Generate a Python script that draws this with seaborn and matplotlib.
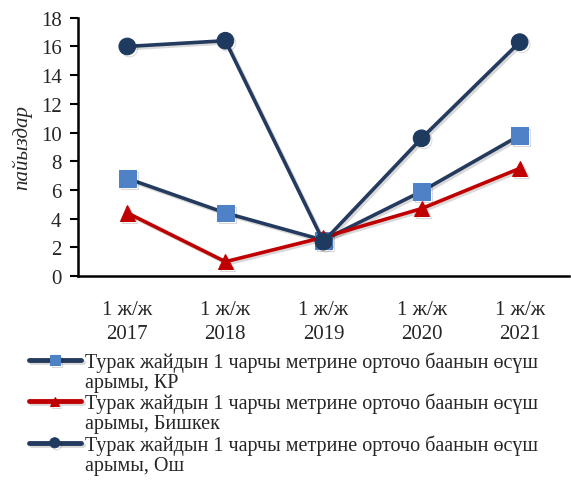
import pandas as pd
import numpy as np
import matplotlib
matplotlib.use("Agg")
import matplotlib.pyplot as plt
import matplotlib.patheffects as pe
from matplotlib.lines import Line2D
import seaborn as sns

# Данные графика
periods = ["1 ж/ж\n2017", "1 ж/ж\n2018", "1 ж/ж\n2019", "1 ж/ж\n2020", "1 ж/ж\n2021"]
kr = [6.8, 4.4, 2.5, 5.9, 9.8]
bishkek = [4.4, 1.0, 2.7, 4.7, 7.5]
osh = [16.0, 16.4, 2.4, 9.6, 16.3]

base_line1 = "Турак жайдын 1 чарчы метрине орточо баанын өсүш"
regions = ["КР", "Бишкек", "Ош"]
series_names = [base_line1 + "\nарымы, " + r for r in regions]

df = pd.DataFrame({
    "period": periods * 3,
    "value": kr + bishkek + osh,
    "series": [series_names[0]] * 5 + [series_names[1]] * 5 + [series_names[2]] * 5,
})

sns.set_style("white")
plt.rcParams["font.family"] = ["Liberation Serif", "DejaVu Serif"]

fig = plt.figure(figsize=(5.71, 4.81), dpi=100)
ax = fig.add_axes([0.137, 0.424, 0.859, 0.537])

styles = [
    dict(marker="s", ms=12, mfc="#4F81C7", mec="#4F81C7", lw=2.6),
    dict(marker="^", ms=11, mfc="#C00000", mec="#C00000", lw=2.6),
    dict(marker="o", ms=12, mfc="#1F3A5F", mec="#1F3A5F", lw=2.6),
]
shadow = [pe.SimpleLineShadow(offset=(1.5, -1.5), alpha=0.15), pe.Normal()]

for name, col, st in zip(series_names, ["#243A5E", "#C00000", "#243A5E"], styles):
    sub = df[df["series"] == name]
    sns.lineplot(data=sub, x="period", y="value", ax=ax, color=col,
                 label=name, sort=False, path_effects=shadow, **st)

ax.set_xlim(-0.5, 4.5)
ax.set_ylim(0, 18)
ax.set_yticks(np.arange(0, 19, 2))
ax.set_xticks(np.arange(-0.5, 4.6, 1), minor=False)
ax.set_xticklabels([])
ax.set_xticks(range(5), minor=True)
ax.set_xticklabels(periods, minor=True, fontsize=15, linespacing=1.35)
ax.tick_params(axis="x", which="major", direction="in", length=5, width=1.5, color="black")
ax.tick_params(axis="x", which="minor", length=0, pad=17)
ax.tick_params(axis="y", direction="out", length=6, width=1.5, color="black",
               labelsize=15, left=True, pad=6)
for s in ["top", "right"]:
    ax.spines[s].set_visible(False)
for s in ["left", "bottom"]:
    ax.spines[s].set_color("black")
    ax.spines[s].set_linewidth(1.8)

ax.set_xlabel("")
ax.set_ylabel("пайыздар", fontsize=15, style="italic", labelpad=6)

# легенда: маркер на уровне первой строки подписи, вторая строка отдельной записью
handles, labels = ax.get_legend_handles_labels()
ax.get_legend().remove()
leg_handles, leg_labels = [], []
for h, r in zip(handles, regions):
    leg_handles += [h, Line2D([], [], color="none")]
    leg_labels += [base_line1, "арымы, " + r]

leg = fig.legend(leg_handles, leg_labels, loc="upper left", bbox_to_anchor=(0.05, 0.268),
                 frameon=False, fontsize=14.5, handlelength=2.6, handletextpad=0.2,
                 labelspacing=0.05, borderpad=0, borderaxespad=0, markerscale=0.6)
for h in leg.get_lines():
    h.set_linewidth(3.5)

fig.savefig("out.png", dpi=100)
